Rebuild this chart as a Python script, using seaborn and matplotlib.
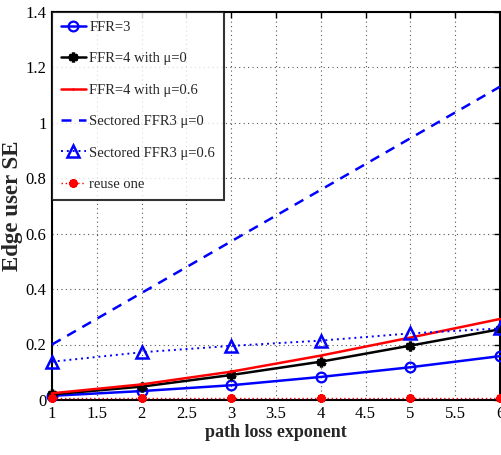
import numpy as np
import pandas as pd
import matplotlib
matplotlib.use("Agg")
import matplotlib.pyplot as plt
import seaborn as sns

# path loss exponent values
path_loss = [1, 2, 3, 4, 5, 6]

# edge user spectral efficiency per scheme
ffr3 = [0.015, 0.032, 0.053, 0.083, 0.118, 0.158]
ffr4_mu0 = [0.020, 0.048, 0.090, 0.138, 0.196, 0.255]
ffr4_mu06 = [0.024, 0.056, 0.102, 0.160, 0.225, 0.292]
sectored_mu0 = [0.200, 0.386, 0.572, 0.758, 0.944, 1.130]
sectored_mu06 = [0.138, 0.172, 0.195, 0.214, 0.240, 0.258]
reuse_one = [0.008, 0.008, 0.008, 0.008, 0.008, 0.008]

labels = ["FFR=3", "FFR=4 with \u03bc=0", "FFR=4 with \u03bc=0.6",
          "Sectored FFR3 \u03bc=0", "Sectored FFR3 \u03bc=0.6", "reuse one"]

x_ticks = [1, 1.5, 2, 2.5, 3, 3.5, 4, 4.5, 5, 5.5, 6]
x_tick_labels = ["1", "1.5", "2", "2.5", "3", "3.5", "4", "4.5", "5", "5.5", "6"]
y_ticks = [0, 0.2, 0.4, 0.6, 0.8, 1.0, 1.2, 1.4]
y_tick_labels = ["0", "0.2", "0.4", "0.6", "0.8", "1", "1.2", "1.4"]

sns.set_style("white")
plt.rcParams["font.family"] = ["Liberation Serif", "DejaVu Serif"]

fig = plt.figure(figsize=(5.02, 4.55), dpi=100)
ax = fig.add_axes([0.1036, 0.121, 0.8924, 0.853])

series = [
    (ffr3, dict(color="blue", marker="o", ms=7, mfc="none", mec="blue", mew=1.6,
                linestyle="-", lw=1.8)),
    (ffr4_mu0, dict(color="black", marker=(6, 2, 0), ms=7, mec="black", mew=2.4,
                    linestyle="-", lw=1.8)),
    (ffr4_mu06, dict(color="red", marker=".", ms=2, mec="red", linestyle="-", lw=1.8)),
    (sectored_mu0, dict(color="blue", linestyle=(0, (4, 3)), lw=1.8)),
    (sectored_mu06, dict(color="blue", marker="^", ms=9, mfc="none", mec="blue",
                         mew=1.8, linestyle=(0, (1, 2)), lw=1.4)),
    (reuse_one, dict(color="red", marker=(6, 2, 0), ms=6, mec="red", mew=2.6,
                     linestyle=(0, (1, 2)), lw=1.0)),
]

for (vals, kw), lab in zip(series, labels):
    df = pd.DataFrame({"path loss exponent": path_loss, "SE": vals})
    sns.lineplot(data=df, x="path loss exponent", y="SE", ax=ax, label=lab,
                 clip_on=False, zorder=3, **kw)

ax.set_xlim(1, 6)
ax.set_ylim(0, 1.4)
ax.set_xticks(x_ticks)
ax.set_xticklabels(x_tick_labels)
ax.set_yticks(y_ticks)
ax.set_yticklabels(y_tick_labels)
ax.tick_params(axis="both", which="both", direction="in", length=4, width=1,
               top=True, right=True, labelsize=12, pad=4, colors="black")
ax.grid(True, linestyle=(0, (1, 3)), color="#555555", linewidth=0.8)
for sp in ax.spines.values():
    sp.set_color("black")
    sp.set_linewidth(1.5)

ax.set_xlabel("path loss exponent", fontsize=13, fontweight="bold", labelpad=2)
ax.set_ylabel("Edge user SE", fontsize=16.5, fontweight="bold", labelpad=2)

leg = ax.legend(loc="upper left", borderaxespad=0, fontsize=10.5,
                handlelength=1.7, handletextpad=0.25, labelspacing=1.25,
                borderpad=0.6, frameon=True, fancybox=False)
leg.get_frame().set_edgecolor("black")
leg.get_frame().set_linewidth(1.5)
leg.set_zorder(5)

fig.savefig("out.png", dpi=100)
